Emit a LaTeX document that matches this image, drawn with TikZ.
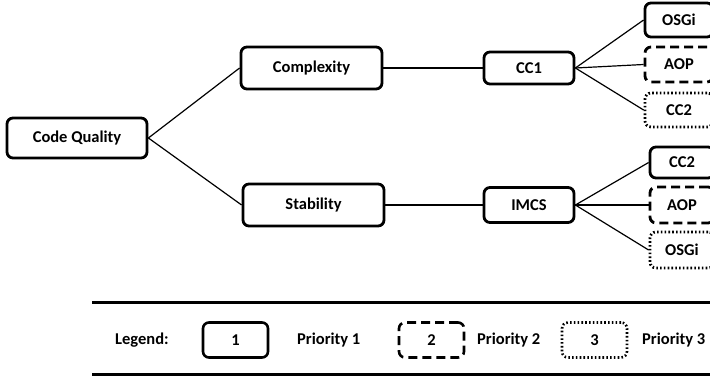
\documentclass[tikz,border=0pt]{standalone}
\usepackage{fontspec}
\setmainfont{Carlito}
\begin{document}
\begin{tikzpicture}[x=1pt,y=-1pt,
  box/.style={draw=black, line width=2.8pt, rounded corners=6pt, fill=white,
    font=\bfseries\fontsize{16.5}{19}\selectfont, inner sep=0pt},
  prio1/.style={box},
  prio2/.style={box, dash pattern=on 9pt off 5pt},
  prio3/.style={box, dash pattern=on 1.6pt off 2.2pt},
  keybox/.style={line width=2.6pt, minimum width=65pt, minimum height=35pt},
  link/.style={line width=1.2pt},
  rule/.style={line width=2.8pt},
  lbl/.style={font=\bfseries\fontsize{16.5}{19}\selectfont, inner sep=0pt}]
\useasboundingbox (0,0) rectangle (710,377);
\begin{scope}
\clip (0,0) rectangle (710,377);
% tree nodes
\node[prio1, minimum width=140pt, minimum height=40pt] (cq) at (77,138) {Code Quality};
\node[prio1, minimum width=141pt, minimum height=42pt] (cx) at (311.5,68) {Complexity};
\node[prio1, minimum width=141pt, minimum height=42pt] (st) at (313.5,205) {Stability};
\node[prio1, minimum width=90pt, minimum height=32pt] (cc1) at (529,68) {CC1};
\node[prio1, minimum width=90pt, minimum height=35pt] (imcs) at (529,205) {IMCS};
% leaves under CC1
\node[prio1, minimum width=68pt, minimum height=34pt] (a1) at (679,20) {OSGi};
\node[prio2, minimum width=68pt, minimum height=35pt] (a2) at (679,64.5) {AOP};
\node[prio3, minimum width=68pt, minimum height=34pt] (a3) at (679,110) {CC2};
% leaves under IMCS
\node[prio1, minimum width=64pt, minimum height=31pt] (b1) at (682,162.5) {CC2};
\node[prio2, minimum width=64pt, minimum height=36pt] (b2) at (682,205) {AOP};
\node[prio3, minimum width=64pt, minimum height=36pt] (b3) at (682,250) {OSGi};
% legend rules
\coordinate (r1a) at (92,302.5);
\coordinate (r1b) at (712,302.5);
\coordinate (r2a) at (92,374.5);
\coordinate (r2b) at (712,374.5);
\draw[rule] (r1a) -- (r1b);
\draw[rule] (r2a) -- (r2b);
\end{scope}
% connectors
\draw[link] (cq.east) -- (cx.west);
\draw[link] (cq.east) -- (st.west);
\draw[link] (cx.east) -- (cc1.west);
\draw[link] (st.east) -- (imcs.west);
\draw[link] (cc1.east) -- (a1.west);
\draw[link] (cc1.east) -- (a2.west);
\draw[link] (cc1.east) -- (a3.west);
\draw[link] (imcs.east) -- (b1.west);
\draw[link] (imcs.east) -- (b2.west);
\draw[link] (imcs.east) -- (b3.west);
% legend entries
\node[lbl, anchor=west] (lg) at (115,340) {Legend:};
\node[prio1, keybox] (k1) at (235.5,340) {1};
\node[lbl, anchor=west] (p1) at (297,340) {Priority 1};
\node[prio2, keybox] (k2) at (431.5,340) {2};
\node[lbl, anchor=west] (p2) at (477,340) {Priority 2};
\node[prio3, keybox] (k3) at (594.5,340) {3};
\node[lbl, anchor=west] (p3) at (642,340) {Priority 3};
\end{tikzpicture}
\end{document}
